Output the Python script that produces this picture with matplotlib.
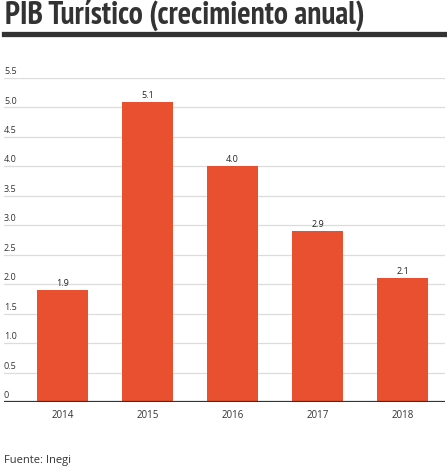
import matplotlib.pyplot as plt
import matplotlib.transforms as mtransforms

years = ['2014', '2015', '2016', '2017', '2018']
growth = [1.9, 5.1, 4.0, 2.9, 2.1]
yticks = [0, 0.5, 1.0, 1.5, 2.0, 2.5, 3.0, 3.5, 4.0, 4.5, 5.0, 5.5]
ytick_labels = ['0', '0.5', '1.0', '1.5', '2.0', '2.5', '3.0', '3.5', '4.0', '4.5', '5.0', '5.5']

plt.rcParams['font.family'] = ['Open Sans', 'DejaVu Sans']

W, H = 447, 477
fig = plt.figure(figsize=(W / 100, H / 100), dpi=100)
fig.patch.set_facecolor('white')

# plot area: gridlines run from x=4 to 445, zero line at y=403, 5.5 at y=79
ax = fig.add_axes([4 / W, 1 - 403 / H, 441 / W, 324 / H])
x = list(range(len(years)))
ax.bar(x, growth, width=0.61, color='#e8502f', zorder=3)
ax.set_xlim(-0.5 - 16 / 85, 4.5)
ax.set_ylim(0, 5.5)

for v in yticks[1:]:
    ax.axhline(v, color='#dcdcdc', lw=0.9, zorder=1)
ax.axhline(0, color='#333333', lw=1.6, zorder=4)

trans = mtransforms.blended_transform_factory(ax.transAxes, ax.transData)
for v, lab in zip(yticks, ytick_labels):
    ax.text(0.0, v + 0.05, lab, transform=trans, ha='left', va='bottom',
            fontsize=6.5, color='#333333', clip_on=False)

for xi, v in zip(x, growth):
    ax.text(xi, v + 0.05, f'{v:.1f}', ha='center', va='bottom',
            fontsize=6.5, color='#222222')

ax.set_xticks(x)
ax.set_xticklabels(years, fontsize=7, color='#333333')
ax.tick_params(axis='x', length=0, pad=5)
ax.set_yticks([])
for s in ax.spines.values():
    s.set_visible(False)

fig.text(5 / W, 1 - 15 / H, 'PIB Turístico (crecimiento anual)',
         fontsize=22.7, fontweight='bold', family='PT Sans Narrow',
         color='#333333', ha='left', va='center')
fig.add_artist(plt.Line2D([4 / W, 445 / W], [1 - 34.5 / H, 1 - 34.5 / H],
                          color='#333333', lw=3.8))

fig.text(4 / W, 1 - 461 / H, 'Fuente: Inegi', fontsize=8, color='#333333',
         ha='left', va='center')

fig.savefig('out.png', dpi=100)
